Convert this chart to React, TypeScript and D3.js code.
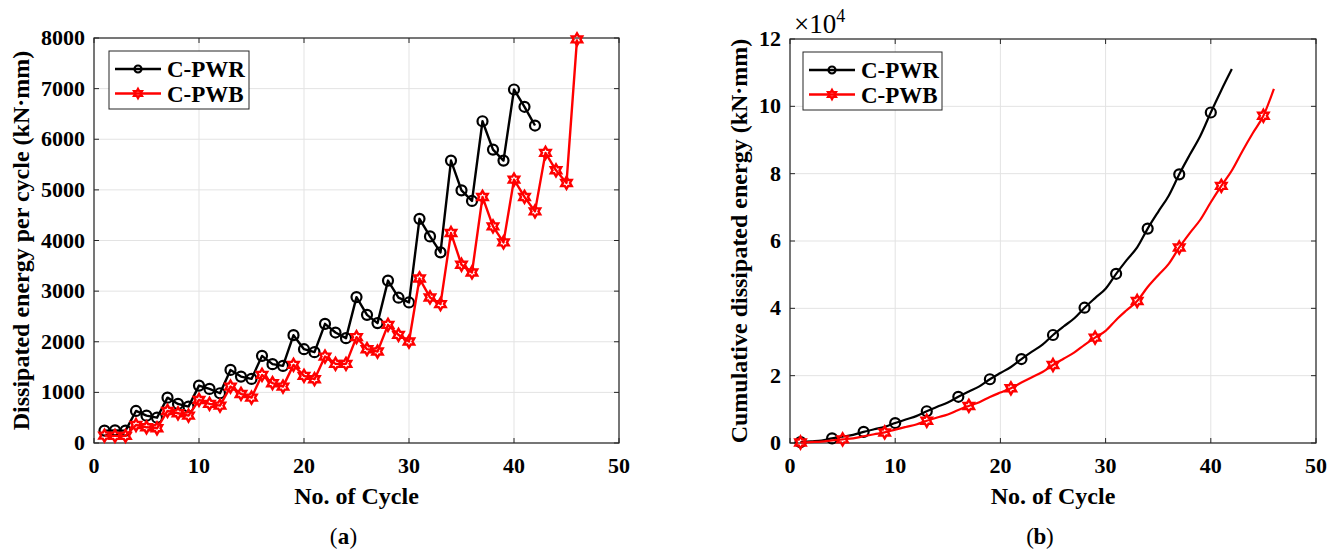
import { useEffect, useRef } from 'react';
import * as d3 from 'd3';

// per-cycle dissipated energy (kN·mm)
const cyclesPWR = d3.range(1, 43);
const energyPWR = [
  245, 250, 245, 633, 540, 500, 896, 772, 718, 1134, 1068, 983, 1444, 1312, 1266,
  1721, 1557, 1523, 2130, 1853, 1794, 2354, 2182, 2071, 2882, 2532, 2368, 3208,
  2870, 2776, 4428, 4081, 3765, 5579, 4991, 4781, 6356, 5796, 5579, 6983, 6641, 6271,
];
const cyclesPWB = d3.range(1, 47);
const energyPWB = [
  145, 140, 140, 356, 310, 290, 633, 587, 540, 850, 772, 738, 1114, 969, 896,
  1345, 1181, 1114, 1543, 1325, 1260, 1707, 1563, 1563, 2091, 1853, 1806, 2334,
  2136, 2004, 3250, 2875, 2744, 4148, 3521, 3369, 4860, 4279, 3962, 5203, 4860,
  4575, 5731, 5387, 5137, 7972,
];

// cumulative dissipated energy (kN·mm)
const cumPWR = [
  245, 495, 740, 1373, 1913, 2413, 3309, 4081, 4799, 5933, 7001, 7984, 9428, 10740,
  12006, 13727, 15284, 16807, 18937, 20790, 22584, 24938, 27120, 29191, 32073, 34605,
  36973, 40181, 43051, 45827, 50255, 54336, 58101, 63680, 68671, 73452, 79808, 85604,
  91183, 98166, 104807, 111078,
];
const cumPWB = [
  145, 285, 425, 781, 1091, 1381, 2014, 2601, 3141, 3991, 4763, 5501, 6615, 7584,
  8480, 9825, 11006, 12120, 13663, 14988, 16248, 17955, 19518, 21081, 23172, 25025,
  26831, 29165, 31301, 33305, 36555, 39430, 42174, 46322, 49843, 53212, 58072, 62351,
  66313, 71516, 76376, 80951, 86682, 92069, 97206, 105178,
];

const xTicks = [0, 10, 20, 30, 40, 50];
const yTicksA = [0, 1000, 2000, 3000, 4000, 5000, 6000, 7000, 8000];
const yTicksB = [0, 20000, 40000, 60000, 80000, 100000, 120000];

const FONT = '"Liberation Serif", "Times New Roman", serif';
const AXIS = '#262626';
const GRID = '#e3e3e3';

const hexagram = (r: number) => {
  const pts: [number, number][] = [];
  for (let i = 0; i < 12; i++) {
    const a = -Math.PI / 2 + (i * Math.PI) / 6;
    const rr = i % 2 === 0 ? r : r / Math.sqrt(3);
    pts.push([rr * Math.cos(a), rr * Math.sin(a)]);
  }
  return 'M' + pts.map((p) => p.join(',')).join('L') + 'Z';
};

const drawMarker = (g: any, type: string, x: number, y: number, r: number) => {
  if (type === 'circle') {
    g.append('circle')
      .attr('cx', x)
      .attr('cy', y)
      .attr('r', r)
      .attr('fill', 'none')
      .attr('stroke', 'black')
      .attr('stroke-width', 2.2);
  } else {
    g.append('path')
      .attr('d', hexagram(r))
      .attr('transform', `translate(${x},${y})`)
      .attr('fill', 'none')
      .attr('stroke', 'red')
      .attr('stroke-width', 2.4)
      .attr('stroke-linejoin', 'miter');
  }
};

const drawPanel = (svg: any, o: any) => {
  const x = d3.scaleLinear().domain([0, 50]).range([o.left, o.right]);
  const y = d3.scaleLinear().domain([0, o.yMax]).range([o.bottom, o.top]);
  const g = svg.append('g');

  // grid
  g.selectAll('.gx')
    .data(xTicks)
    .enter()
    .append('line')
    .attr('x1', (d: number) => x(d))
    .attr('x2', (d: number) => x(d))
    .attr('y1', o.top)
    .attr('y2', o.bottom)
    .attr('stroke', GRID);
  g.selectAll('.gy')
    .data(o.yTicks)
    .enter()
    .append('line')
    .attr('x1', o.left)
    .attr('x2', o.right)
    .attr('y1', (d: number) => y(d))
    .attr('y2', (d: number) => y(d))
    .attr('stroke', GRID);

  // inward ticks on all sides
  const tl = 5;
  xTicks.forEach((d) => {
    g.append('line').attr('x1', x(d)).attr('x2', x(d)).attr('y1', o.bottom).attr('y2', o.bottom - tl).attr('stroke', AXIS);
    g.append('line').attr('x1', x(d)).attr('x2', x(d)).attr('y1', o.top).attr('y2', o.top + tl).attr('stroke', AXIS);
  });
  o.yTicks.forEach((d: number) => {
    g.append('line').attr('x1', o.left).attr('x2', o.left + tl).attr('y1', y(d)).attr('y2', y(d)).attr('stroke', AXIS);
    g.append('line').attr('x1', o.right).attr('x2', o.right - tl).attr('y1', y(d)).attr('y2', y(d)).attr('stroke', AXIS);
  });
  g.append('rect')
    .attr('x', o.left)
    .attr('y', o.top)
    .attr('width', o.right - o.left)
    .attr('height', o.bottom - o.top)
    .attr('fill', 'none')
    .attr('stroke', AXIS)
    .attr('stroke-width', 1.2);

  // tick labels
  g.selectAll('.xl')
    .data(xTicks)
    .enter()
    .append('text')
    .attr('x', (d: number) => x(d))
    .attr('y', o.bottom + 30)
    .attr('text-anchor', 'middle')
    .style('font', `bold 22px ${FONT}`)
    .text((d: number) => d);
  g.selectAll('.yl')
    .data(o.yTicks)
    .enter()
    .append('text')
    .attr('x', o.left - 9)
    .attr('y', (d: number) => y(d) + 7)
    .attr('text-anchor', 'end')
    .style('font', `bold 22px ${FONT}`)
    .text((d: number) => o.yFmt(d));

  // axis labels
  g.append('text')
    .attr('x', (o.left + o.right) / 2)
    .attr('y', o.bottom + 61)
    .attr('text-anchor', 'middle')
    .style('font', `bold 24px ${FONT}`)
    .text('No. of Cycle');
  g.append('text')
    .attr('transform', `translate(${o.yLabelX},${(o.top + o.bottom) / 2}) rotate(-90)`)
    .attr('text-anchor', 'middle')
    .style('font', `bold 24px ${FONT}`)
    .text(o.yLabel);

  // panel caption: "(" + bold letter + ")"
  const cx = (o.left + o.right) / 2 - 13;
  const cy = 544;
  g.append('text')
    .attr('x', cx - 6)
    .attr('y', cy)
    .attr('text-anchor', 'end')
    .style('font', `23px ${FONT}`)
    .text('(');
  g.append('text')
    .attr('x', cx)
    .attr('y', cy)
    .attr('text-anchor', 'middle')
    .style('font', `bold 23px ${FONT}`)
    .text(o.caption);
  g.append('text')
    .attr('x', cx + 6)
    .attr('y', cy)
    .attr('text-anchor', 'start')
    .style('font', `23px ${FONT}`)
    .text(')');

  // series
  o.series.forEach((s: any) => {
    const pts = s.x.map((c: number, i: number) => [x(c), y(s.y[i])]);
    g.append('path')
      .attr('d', d3.line().curve(o.curve)(pts))
      .attr('fill', 'none')
      .attr('stroke', s.color)
      .attr('stroke-width', o.lineWidth)
      .attr('stroke-linejoin', 'round');
    pts.forEach((p: number[], i: number) => {
      if (i % s.every === 0) drawMarker(g, s.marker, p[0], p[1], s.marker === 'circle' ? 5 : 6);
    });
  });

  // legend
  const lg = g.append('g').attr('transform', `translate(${o.legend[0]},${o.legend[1]})`);
  lg.append('rect')
    .attr('width', o.legend[2])
    .attr('height', 58)
    .attr('fill', 'white')
    .attr('stroke', AXIS)
    .attr('stroke-width', 1);
  o.series.forEach((s: any, i: number) => {
    const ly = 18 + i * 24.5;
    lg.append('line')
      .attr('x1', 6)
      .attr('x2', 52)
      .attr('y1', ly)
      .attr('y2', ly)
      .attr('stroke', s.color)
      .attr('stroke-width', 2.4);
    drawMarker(lg, s.marker, 29, ly, s.marker === 'circle' ? 3.5 : 4.5);
    lg.append('text')
      .attr('x', 58)
      .attr('y', ly + 8)
      .style('font', `bold 23px ${FONT}`)
      .text(s.name);
  });
};

const App = () => {
  const ref = useRef<SVGSVGElement>(null);

  useEffect(() => {
    if (!ref.current) return;
    const svg = d3.select(ref.current);
    svg.selectAll('*').remove();

    drawPanel(svg, {
      left: 94,
      right: 619,
      top: 38,
      bottom: 443,
      yMax: 8000,
      yTicks: yTicksA,
      yFmt: (d: number) => d,
      yLabel: 'Dissipated energy per cycle (kN·mm)',
      yLabelX: 29,
      caption: 'a',
      curve: d3.curveLinear,
      lineWidth: 2.4,
      legend: [109, 51, 140],
      series: [
        { name: 'C-PWR', x: cyclesPWR, y: energyPWR, color: 'black', marker: 'circle', every: 1 },
        { name: 'C-PWB', x: cyclesPWB, y: energyPWB, color: 'red', marker: 'star', every: 1 },
      ],
    });

    drawPanel(svg, {
      left: 790,
      right: 1316,
      top: 39,
      bottom: 443,
      yMax: 120000,
      yTicks: yTicksB,
      yFmt: (d: number) => d / 10000,
      yLabel: 'Cumulative dissipated energy (kN·mm)',
      yLabelX: 747,
      caption: 'b',
      curve: d3.curveMonotoneX,
      lineWidth: 2.2,
      legend: [803, 52, 139],
      series: [
        { name: 'C-PWR', x: cyclesPWR, y: cumPWR, color: 'black', marker: 'circle', every: 3 },
        { name: 'C-PWB', x: cyclesPWB, y: cumPWB, color: 'red', marker: 'star', every: 4 },
      ],
    });

    // exponent label
    const ex = svg
      .append('text')
      .attr('x', 794)
      .attr('y', 33)
      .style('font', `27px ${FONT}`);
    ex.append('tspan').text('×10');
    ex.append('tspan').attr('dy', -11).style('font-size', '18px').text('4');
  }, []);

  return (
    <div>
      <svg
        ref={ref}
        width={1342}
        height={556}
        style={{ display: 'block', position: 'absolute', left: 0, top: 0 }}
      />
    </div>
  );
};

export default App;
